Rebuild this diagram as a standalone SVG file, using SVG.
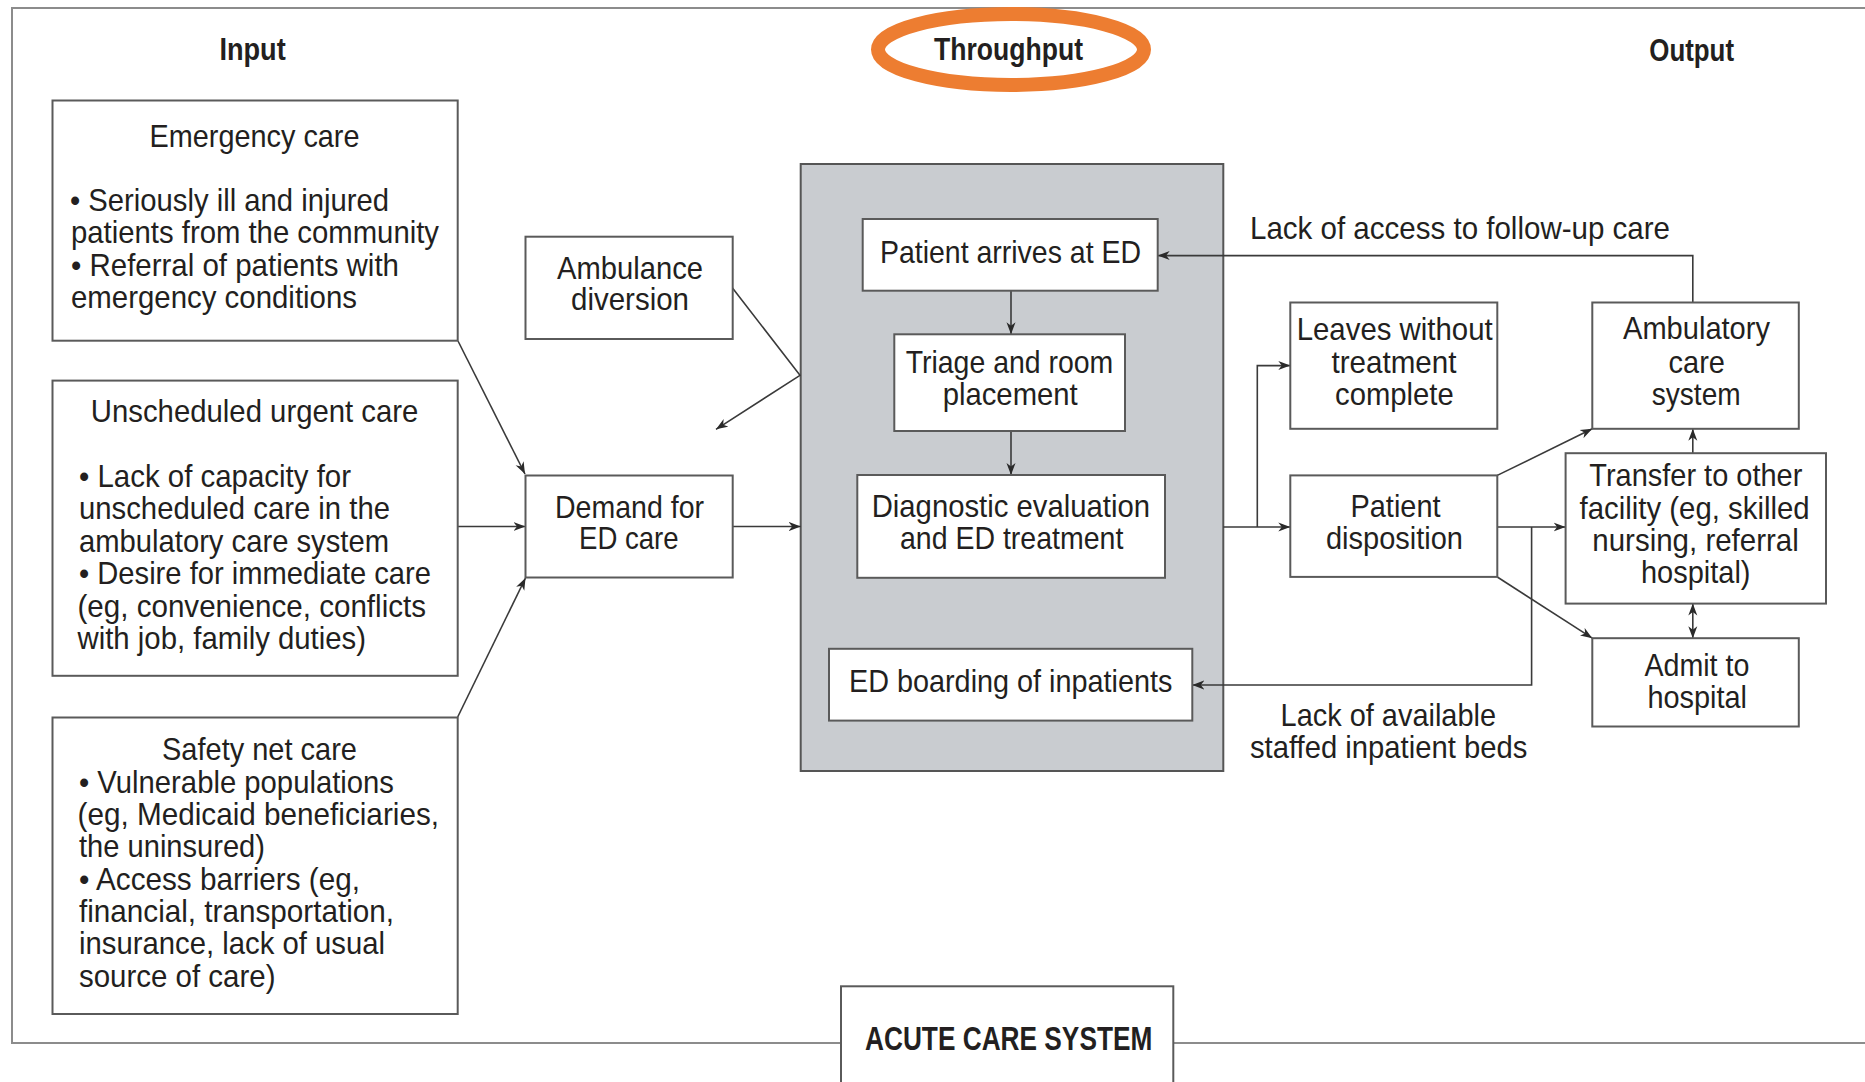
<svg xmlns="http://www.w3.org/2000/svg" width="1865" height="1082" viewBox="0 0 1865 1082">
<style>
.bg{fill:#ffffff}
.frame{fill:none;stroke:#8c8c8c;stroke-width:2}
.box{fill:#ffffff;stroke:#5a5a5a;stroke-width:2}
.gray{fill:#c9ccd0;stroke:#555555;stroke-width:2}
.t{font-family:"Liberation Sans",Arial,sans-serif;font-size:30.5px;fill:#231f20}
.h{font-family:"Liberation Sans",Arial,sans-serif;font-size:31px;font-weight:bold;fill:#231f20}
.ac{font-family:"Liberation Sans",Arial,sans-serif;font-size:33px;font-weight:bold;fill:#231f20}
.conn{fill:none;stroke:#3a3a3a;stroke-width:1.6}
.ring{fill:none;stroke:#ed7d31;stroke-width:14}
</style>
<defs>
<marker id="arr" markerUnits="userSpaceOnUse" markerWidth="14" markerHeight="10" refX="12" refY="5" orient="auto-start-reverse">
<path d="M0,0.5 L12,5 L0,9.5 L3.5,5 Z" fill="#2a2a2a"/>
</marker>
</defs>
<rect class="bg" x="0" y="0" width="1865" height="1082"/>
<path class="frame" d="M1870,8 H12 V1043 H1870"/>

<g id="headings">
<text class="h" x="219.4" y="60" textLength="66.3" lengthAdjust="spacingAndGlyphs">Input</text>
<ellipse class="ring" cx="1011" cy="49.5" rx="133" ry="35.5"/>
<text class="h" x="934" y="60" textLength="149" lengthAdjust="spacingAndGlyphs">Throughput</text>
<text class="h" x="1649.3" y="60.7" textLength="84.7" lengthAdjust="spacingAndGlyphs">Output</text>
</g>

<g id="throughput-area">
<rect class="gray" x="800.7" y="164" width="422.6" height="607"/>
</g>

<g id="connectors">
<line class="conn" x1="458" y1="341" x2="525" y2="474" marker-end="url(#arr)"/>
<line class="conn" x1="457.7" y1="526.5" x2="525.5" y2="526.5" marker-end="url(#arr)"/>
<line class="conn" x1="457.7" y1="717" x2="525.5" y2="578" marker-end="url(#arr)"/>
<line class="conn" x1="732.7" y1="526.5" x2="800.7" y2="526.5" marker-end="url(#arr)"/>
<polyline class="conn" points="732.3,287.7 800,375.3 716,429.3" marker-end="url(#arr)"/>
<line class="conn" x1="1011" y1="290.7" x2="1011" y2="334.3" marker-end="url(#arr)"/>
<line class="conn" x1="1011" y1="431" x2="1011" y2="475" marker-end="url(#arr)"/>
<line class="conn" x1="1223.3" y1="527" x2="1290.3" y2="527" marker-end="url(#arr)"/>
<polyline class="conn" points="1257.3,527 1257.3,365.6 1290.3,365.6" marker-end="url(#arr)"/>
<line class="conn" x1="1497.3" y1="475.4" x2="1592.3" y2="428.8" marker-end="url(#arr)"/>
<line class="conn" x1="1497.3" y1="527" x2="1565.6" y2="527" marker-end="url(#arr)"/>
<line class="conn" x1="1497.3" y1="577" x2="1592.3" y2="638.2" marker-end="url(#arr)"/>
<polyline class="conn" points="1531.6,527 1531.6,685 1192.3,685" marker-end="url(#arr)"/>
<line class="conn" x1="1692.8" y1="453.2" x2="1692.8" y2="428.8" marker-end="url(#arr)"/>
<line class="conn" x1="1692.8" y1="603.6" x2="1692.8" y2="638.2" marker-start="url(#arr)" marker-end="url(#arr)"/>
<polyline class="conn" points="1692.8,302.5 1692.8,255.6 1157.7,255.6" marker-end="url(#arr)"/>
</g>

<g id="emergency-care">
<rect class="box" x="52.5" y="100.5" width="405.2" height="240.2"/>
<text class="t" x="149.5" y="147" textLength="210" lengthAdjust="spacingAndGlyphs">Emergency care</text>
<text class="t" x="70" y="211" textLength="319" lengthAdjust="spacingAndGlyphs">• Seriously ill and injured</text>
<text class="t" x="71" y="243" textLength="368" lengthAdjust="spacingAndGlyphs">patients from the community</text>
<text class="t" x="71" y="276" textLength="328" lengthAdjust="spacingAndGlyphs">• Referral of patients with</text>
<text class="t" x="71" y="308" textLength="286" lengthAdjust="spacingAndGlyphs">emergency conditions</text>
</g>

<g id="unscheduled-urgent-care">
<rect class="box" x="52.5" y="380.6" width="405.2" height="295.2"/>
<text class="t" x="90.8" y="421.5" textLength="327.6" lengthAdjust="spacingAndGlyphs">Unscheduled urgent care</text>
<text class="t" x="79" y="486.5" textLength="272" lengthAdjust="spacingAndGlyphs">• Lack of capacity for</text>
<text class="t" x="79" y="519" textLength="311" lengthAdjust="spacingAndGlyphs">unscheduled care in the</text>
<text class="t" x="79" y="551.5" textLength="310" lengthAdjust="spacingAndGlyphs">ambulatory care system</text>
<text class="t" x="79" y="584" textLength="352" lengthAdjust="spacingAndGlyphs">• Desire for immediate care</text>
<text class="t" x="77.5" y="616.5" textLength="348.5" lengthAdjust="spacingAndGlyphs">(eg, convenience, conflicts</text>
<text class="t" x="77.5" y="649" textLength="288.5" lengthAdjust="spacingAndGlyphs">with job, family duties)</text>
</g>

<g id="safety-net-care">
<rect class="box" x="52.5" y="717.5" width="405.2" height="296.5"/>
<text class="t" x="162" y="760" textLength="195" lengthAdjust="spacingAndGlyphs">Safety net care</text>
<text class="t" x="79" y="793" textLength="315" lengthAdjust="spacingAndGlyphs">• Vulnerable populations</text>
<text class="t" x="77.5" y="825" textLength="361.5" lengthAdjust="spacingAndGlyphs">(eg, Medicaid beneficiaries,</text>
<text class="t" x="79" y="857" textLength="186" lengthAdjust="spacingAndGlyphs">the uninsured)</text>
<text class="t" x="79" y="890" textLength="281" lengthAdjust="spacingAndGlyphs">• Access barriers (eg,</text>
<text class="t" x="79" y="922" textLength="315" lengthAdjust="spacingAndGlyphs">financial, transportation,</text>
<text class="t" x="79" y="954" textLength="306" lengthAdjust="spacingAndGlyphs">insurance, lack of usual</text>
<text class="t" x="79" y="986.5" textLength="196.5" lengthAdjust="spacingAndGlyphs">source of care)</text>
</g>

<g id="ambulance-diversion">
<rect class="box" x="525.5" y="236.7" width="207.2" height="102.3"/>
<text class="t" x="557" y="278.5" textLength="146" lengthAdjust="spacingAndGlyphs">Ambulance</text>
<text class="t" x="571" y="310" textLength="118" lengthAdjust="spacingAndGlyphs">diversion</text>
</g>

<g id="demand-for-ed-care">
<rect class="box" x="525.5" y="475.5" width="207.2" height="102"/>
<text class="t" x="555" y="517.7" textLength="149" lengthAdjust="spacingAndGlyphs">Demand for</text>
<text class="t" x="579" y="549" textLength="99.6" lengthAdjust="spacingAndGlyphs">ED care</text>
</g>

<g id="patient-arrives">
<rect class="box" x="862.7" y="219" width="295" height="71.7"/>
<text class="t" x="880" y="263.3" textLength="261" lengthAdjust="spacingAndGlyphs">Patient arrives at ED</text>
</g>

<g id="triage">
<rect class="box" x="894.3" y="334.3" width="230.7" height="96.7"/>
<text class="t" x="905.7" y="373.3" textLength="207.6" lengthAdjust="spacingAndGlyphs">Triage and room</text>
<text class="t" x="942.7" y="405" textLength="135" lengthAdjust="spacingAndGlyphs">placement</text>
</g>

<g id="diagnostic-evaluation">
<rect class="box" x="857.3" y="475" width="307.7" height="102.8"/>
<text class="t" x="871.7" y="516.5" textLength="278.3" lengthAdjust="spacingAndGlyphs">Diagnostic evaluation</text>
<text class="t" x="900" y="549" textLength="223.3" lengthAdjust="spacingAndGlyphs">and ED treatment</text>
</g>

<g id="ed-boarding">
<rect class="box" x="829" y="648.8" width="363.3" height="71.8"/>
<text class="t" x="849" y="692" textLength="323.3" lengthAdjust="spacingAndGlyphs">ED boarding of inpatients</text>
</g>

<g id="leaves-without-treatment">
<rect class="box" x="1290.3" y="302.5" width="207" height="126.3"/>
<text class="t" x="1296.7" y="340" textLength="196" lengthAdjust="spacingAndGlyphs">Leaves without</text>
<text class="t" x="1331.5" y="372.5" textLength="125" lengthAdjust="spacingAndGlyphs">treatment</text>
<text class="t" x="1335" y="405" textLength="118.7" lengthAdjust="spacingAndGlyphs">complete</text>
</g>

<g id="patient-disposition">
<rect class="box" x="1290.3" y="475.4" width="207" height="101.5"/>
<text class="t" x="1350.5" y="517" textLength="90" lengthAdjust="spacingAndGlyphs">Patient</text>
<text class="t" x="1326" y="549.3" textLength="137" lengthAdjust="spacingAndGlyphs">disposition</text>
</g>

<g id="ambulatory-care-system">
<rect class="box" x="1592.3" y="302.5" width="206.5" height="126.3"/>
<text class="t" x="1623" y="339" textLength="147" lengthAdjust="spacingAndGlyphs">Ambulatory</text>
<text class="t" x="1668.6" y="372.5" textLength="56.4" lengthAdjust="spacingAndGlyphs">care</text>
<text class="t" x="1651.7" y="405" textLength="89" lengthAdjust="spacingAndGlyphs">system</text>
</g>

<g id="transfer-to-other-facility">
<rect class="box" x="1565.6" y="453.2" width="260.4" height="150.4"/>
<text class="t" x="1589.3" y="486" textLength="213" lengthAdjust="spacingAndGlyphs">Transfer to other</text>
<text class="t" x="1579.6" y="518.5" textLength="230" lengthAdjust="spacingAndGlyphs">facility (eg, skilled</text>
<text class="t" x="1592.3" y="551" textLength="206.5" lengthAdjust="spacingAndGlyphs">nursing, referral</text>
<text class="t" x="1641" y="583" textLength="109.5" lengthAdjust="spacingAndGlyphs">hospital)</text>
</g>

<g id="admit-to-hospital">
<rect class="box" x="1592.3" y="638.2" width="206.5" height="88.3"/>
<text class="t" x="1644.4" y="676" textLength="105" lengthAdjust="spacingAndGlyphs">Admit to</text>
<text class="t" x="1647.4" y="708" textLength="99.6" lengthAdjust="spacingAndGlyphs">hospital</text>
</g>

<g id="labels">
<text class="t" x="1250" y="239" textLength="420" lengthAdjust="spacingAndGlyphs">Lack of access to follow-up care</text>
<text class="t" x="1280.6" y="726" textLength="215.4" lengthAdjust="spacingAndGlyphs">Lack of available</text>
<text class="t" x="1250" y="758" textLength="277.4" lengthAdjust="spacingAndGlyphs">staffed inpatient beds</text>
</g>

<g id="acute-care-system">
<rect class="box" x="841" y="986.3" width="332.3" height="110"/>
<text class="ac" x="865" y="1050" textLength="287.3" lengthAdjust="spacingAndGlyphs">ACUTE CARE SYSTEM</text>
</g>
</svg>
